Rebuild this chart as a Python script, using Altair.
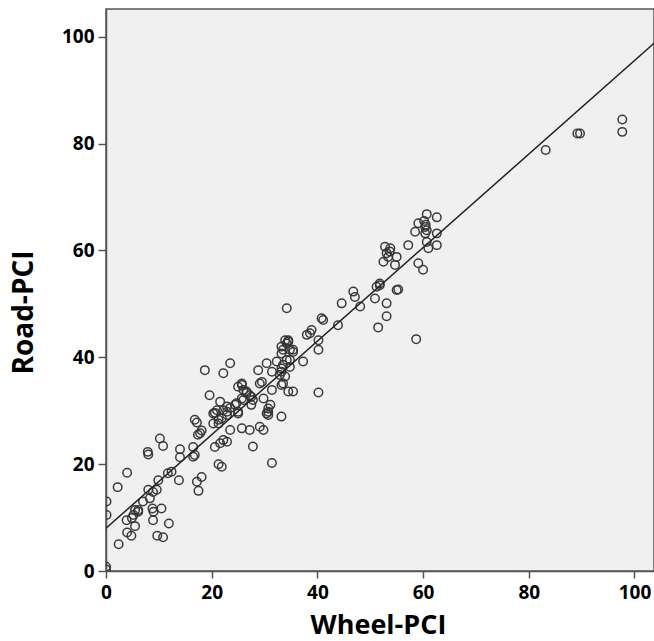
import altair as alt
import pandas as pd

wheel = [
    0.0, 0.0, 0.1, 0.1,
    2.4, 2.2, 4.0, 3.9, 4.0, 4.8, 5.2, 5.5, 6.1, 4.9, 5.5, 6.1,
    7.9, 8.0, 10.2, 10.8, 8.0, 8.3, 8.9, 9.6, 9.9, 8.8, 8.9, 10.5, 11.9, 9.7, 10.8,
    11.7, 12.4, 13.8, 14.0, 14.0, 9.0, 7.0,
    16.5, 16.8, 17.2, 18.1, 17.5, 17.2, 17.8, 18.1, 20.6, 21.6, 21.3, 21.9, 21.3, 22.2,
    16.8, 17.4, 16.5,
    19.6, 21.6, 20.6, 20.3, 21.9, 22.9, 23.5, 24.7, 25.0, 25.7, 25.0, 23.5, 22.9, 25.7,
    27.2, 27.8, 26.0, 26.6, 27.2, 27.5, 27.8, 29.1, 29.8, 29.8, 31.1, 30.7, 30.4, 31.4,
    31.4, 29.1, 33.2, 33.2, 34.5, 35.4, 40.2,
    18.7, 22.2, 23.5, 25.7, 26.0, 26.6, 25.7, 27.5, 28.8, 30.4, 31.4, 32.3, 29.5, 30.7,
    30.7, 33.2, 33.5, 34.2, 34.5, 33.2, 35.4, 33.2, 32.9, 34.8, 37.3, 38.0,
    21.3, 20.3, 21.0, 22.2, 22.9, 22.9, 24.4, 25.0,
    33.9, 34.5, 34.8, 34.2, 33.5, 33.2, 33.9, 35.4, 34.8, 33.5,
    34.2, 40.8, 41.1, 38.9, 38.6, 40.2, 40.2, 43.9, 44.6, 46.8, 47.1, 48.1, 51.2, 51.8,
    50.9, 53.1, 53.1, 51.5, 55.0,
    52.5, 53.1, 53.8, 53.4, 54.7, 52.8, 53.7, 55.0, 57.2, 59.1, 60.0,
    60.7, 62.6, 59.1, 58.5, 60.4, 60.7, 60.4, 62.6, 60.7, 61.0, 62.6, 60.5, 60.2,
    51.8, 55.3, 58.7,
    83.2, 89.2, 89.7, 97.7, 97.7,
]
road = [
    0.8, 0.3, 13.0, 10.5,
    5.0, 15.7, 18.4, 9.5, 7.2, 6.6, 10.5, 8.4, 11.4, 9.9, 11.4, 11.1,
    22.3, 21.8, 24.8, 23.4, 15.2, 13.6, 14.8, 15.2, 17.0, 11.7, 9.5, 11.7, 8.9, 6.6, 6.3,
    18.3, 18.6, 17.0, 22.8, 21.3, 11.1, 13.0,
    23.2, 21.7, 16.7, 17.6, 15.0, 27.8, 25.8, 26.3, 23.2, 23.9, 20.0, 19.5, 27.6, 24.5,
    28.3, 25.5, 21.4,
    32.9, 31.7, 29.6, 27.6, 28.6, 29.8, 30.5, 31.4, 34.5, 34.8, 29.5, 26.4, 24.2, 26.7,
    26.4, 23.3, 32.0, 33.3, 32.9, 31.1, 32.0, 27.0, 26.4, 32.3, 31.1, 29.8, 29.5, 33.9,
    20.2, 35.1, 34.8, 28.9, 33.6, 33.6, 33.4,
    37.6, 37.0, 38.9, 35.1, 33.9, 33.6, 32.3, 32.6, 37.6, 38.9, 37.3, 39.2, 35.4, 30.4,
    29.2, 40.7, 41.4, 42.6, 43.2, 42.0, 41.0, 37.9, 36.7, 38.2, 39.2, 44.2,
    28.3, 29.5, 30.1, 30.1, 29.2, 30.8, 31.1, 29.8,
    43.2, 42.9, 41.4, 39.5, 38.6, 37.3, 36.4, 41.4, 39.5, 35.1,
    49.2, 47.3, 47.0, 45.1, 44.5, 43.2, 41.4, 46.0, 50.1, 52.3, 51.3, 49.5, 53.2, 53.8,
    51.0, 50.1, 47.7, 45.6, 52.6,
    57.9, 59.5, 60.4, 58.8, 57.3, 60.7, 59.8, 58.8, 61.0, 57.6, 56.4,
    66.8, 66.2, 65.1, 63.5, 64.4, 63.8, 63.2, 63.2, 61.6, 60.4, 61.0, 64.8, 65.5,
    53.5, 52.7, 43.4,
    78.8, 81.9, 81.9, 84.5, 82.2,
]

line_x = [0.0, 103.7]
line_y = [8.0, 98.8]

pts = pd.DataFrame({"Wheel-PCI": wheel, "Road-PCI": road})
fit = pd.DataFrame({"Wheel-PCI": line_x, "Road-PCI": line_y})

FONT = "Open Sans"
xscale = alt.Scale(domain=[0, 103.7], nice=False, zero=False)
yscale = alt.Scale(domain=[0, 105.2], nice=False, zero=False)

xaxis = alt.Axis(
    values=[0, 20, 40, 60, 80, 100], grid=False, domainColor="#555555",
    domainWidth=1.5, tickColor="#555555", tickWidth=1.5, tickSize=7,
    labelFont=FONT, labelFontSize=19, labelFontWeight="bold", labelColor="black",
    labelPadding=5, labelFlush=False, title="Wheel-PCI", titleFont=FONT,
    titleFontSize=27, titleFontWeight="bold", titleColor="black",
    titleX=272, titleY=62, titleAlign="center", titleBaseline="alphabetic",
)
yaxis = alt.Axis(
    values=[0, 20, 40, 60, 80, 100], grid=False, domainColor="#555555",
    domainWidth=1.5, tickColor="#555555", tickWidth=1.5, tickSize=8,
    labelFont=FONT, labelFontSize=19, labelFontWeight="bold", labelColor="black",
    labelPadding=4, labelFlush=False, title="Road-PCI", titleFont=FONT,
    titleFontSize=28, titleFontWeight="bold", titleColor="black",
    titleX=-82, titleY=303, titleAlign="center", titleBaseline="middle",
    titleAngle=270,
)

points = alt.Chart(pts).mark_point(
    shape="circle", filled=False, size=72, strokeWidth=1.5, color="#333333",
    opacity=0.95, clip=True,
).encode(
    x=alt.X("Wheel-PCI:Q", scale=xscale, axis=xaxis),
    y=alt.Y("Road-PCI:Q", scale=yscale, axis=yaxis),
)

line = alt.Chart(fit).mark_line(color="#222222", strokeWidth=1.5, clip=True).encode(
    x=alt.X("Wheel-PCI:Q", scale=xscale),
    y=alt.Y("Road-PCI:Q", scale=yscale),
)

chart = alt.layer(points, line).properties(
    width=548, height=562,
    autosize=alt.AutoSizeParams(type="none"),
    padding={"left": 106, "top": 9, "right": 0, "bottom": 70},
    background="white",
).configure_view(fill="#f0f0f0", stroke="#555555", strokeWidth=1.5)

chart.save("out.html", embed_options={"renderer": "svg", "actions": False})
